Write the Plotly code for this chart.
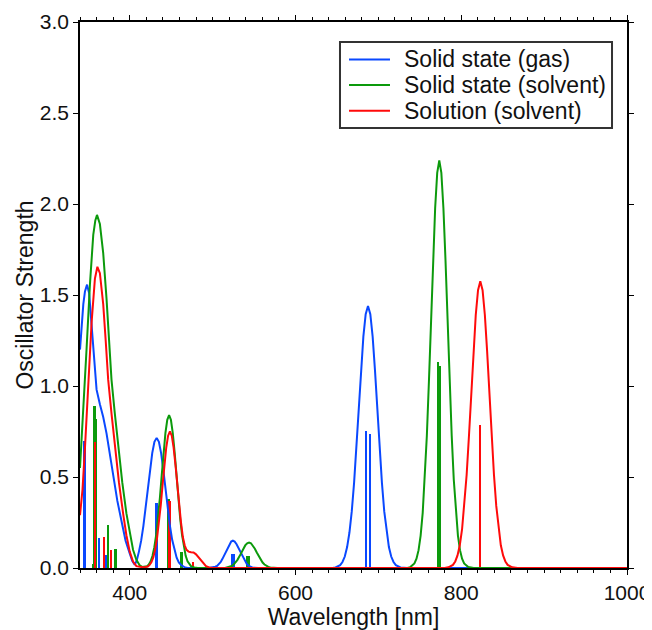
import plotly.graph_objects as go

# broadened spectra (wavelength in nm, oscillator strength)
blue_x = [340, 342, 344, 346, 348.5, 351, 354, 357, 360, 364, 368, 372, 376, 380, 385, 390, 395, 400,
          403, 406, 408.4, 411.1, 413.8, 416.5, 419.1, 421.8, 424.5, 427.15, 429.8, 432.5, 435.2, 437.85,
          440.5, 443.2, 445.9, 448.5, 451.2, 453.9, 456.6, 459.25, 462, 466, 470, 495,
          499, 501.1, 503.25, 505.4, 507.5, 509.6, 511.75, 513.9, 516, 518.1, 520.25, 522.4, 524.5,
          526.6, 528.75, 530.9, 533, 535.1, 537.25, 539.4, 541.5, 543.6, 545.75, 547.9, 550, 555, 645,
          648.3, 653.9, 656.7, 659.5, 662.3, 665.1, 667.9, 670.7, 673.5, 676.3, 679.1, 681.9, 684.7, 687.5,
          690.3, 693.1, 695.9, 698.7, 701.5, 704.3, 707.1, 709.9, 712.7, 715.5, 718.3, 721.1, 726.7, 735, 1000]
blue_y = [1.20, 1.34, 1.45, 1.52, 1.557, 1.51, 1.33, 1.12, 0.98, 0.90, 0.83, 0.74, 0.63, 0.50, 0.37, 0.26, 0.15, 0.08,
          0.04, 0.018, 0.04, 0.09, 0.15, 0.232, 0.327, 0.434, 0.540, 0.631, 0.693, 0.715, 0.693, 0.631,
          0.540, 0.434, 0.327, 0.232, 0.155, 0.097, 0.057, 0.031, 0.016, 0.005, 0, 0,
          0.002, 0.003, 0.007, 0.012, 0.020, 0.032, 0.049, 0.069, 0.091, 0.113, 0.132, 0.145, 0.150,
          0.145, 0.132, 0.113, 0.091, 0.069, 0.049, 0.032, 0.020, 0.012, 0.007, 0.003, 0.002, 0, 0,
          0.003, 0.016, 0.033, 0.063, 0.115, 0.195, 0.311, 0.468, 0.659, 0.873, 1.087, 1.271, 1.395, 1.44,
          1.395, 1.271, 1.087, 0.873, 0.659, 0.468, 0.311, 0.195, 0.115, 0.063, 0.033, 0.016, 0.003, 0, 0]

green_x = [340, 344, 348, 352, 356, 358.5, 360.5, 364, 368, 372, 375, 378, 382, 386, 391, 396, 400, 404, 408,
           412, 415, 418, 420.8, 423, 425.25, 427.5, 429.7, 431.9, 434.15, 436.4, 438.6, 440.8, 443.05,
           445.3, 447.5, 449.7, 451.95, 454.2, 456.4, 458.6, 460.85, 463.1, 465.3, 467.5, 469.75, 472,
           474.2, 478, 482, 515,
           516.1, 518.4, 520.75, 523.1, 525.4, 527.7, 530, 532.4, 534.7, 537, 539.35, 541.7, 544,
           546.3, 548.65, 551, 553.3, 555.6, 558, 560.3, 562.6, 564.9, 567.25, 569.6, 571.9, 578, 735,
           738.5, 743.5, 746, 748.5, 751, 753.5, 756, 758.5, 761, 763.5, 766, 768.5, 771, 773.5,
           776, 778.5, 781, 783.5, 786, 788.5, 791, 793.5, 796, 798.5, 801, 803.5, 808.5, 815, 1000]
green_y = [0.55, 0.86, 1.21, 1.56, 1.83, 1.91, 1.94, 1.89, 1.73, 1.48, 1.26, 1.035, 0.85, 0.668, 0.47, 0.30, 0.19, 0.10, 0.045,
           0.015, 0.006, 0.006, 0.009, 0.019, 0.037, 0.067, 0.114, 0.182, 0.273, 0.385, 0.509, 0.634, 0.741,
           0.814, 0.84, 0.814, 0.741, 0.634, 0.509, 0.385, 0.273, 0.182, 0.114, 0.067, 0.037, 0.019,
           0.009, 0.003, 0, 0,
           0.0016, 0.003, 0.006, 0.011, 0.019, 0.030, 0.045, 0.064, 0.085, 0.106, 0.124, 0.136, 0.140,
           0.136, 0.124, 0.106, 0.085, 0.064, 0.045, 0.030, 0.019, 0.011, 0.006, 0.003, 0.0016, 0, 0,
           0.005, 0.025, 0.051, 0.098, 0.178, 0.303, 0.485, 0.727, 1.025, 1.359, 1.691, 1.977, 2.171, 2.24,
           2.171, 1.977, 1.691, 1.359, 1.025, 0.727, 0.485, 0.303, 0.178, 0.098, 0.051, 0.025, 0.005, 0, 0]

red_x = [340, 343, 346, 350, 354, 358, 361, 364, 368, 371, 374, 378, 382, 387, 392, 396, 400, 404, 408,
         412, 416, 419, 421.8, 424, 426.25, 428.5, 430.7, 432.9, 435.15, 437.4, 439.6, 441.8, 444.05,
         446.3, 448.5, 450.7, 452.95, 455.2, 457.4, 459.6, 461.85, 464.1, 466.3, 468.5, 471, 474, 477,
         480, 483, 486, 489, 492, 496, 500, 780,
         784.5, 790, 792.75, 795.5, 798.25, 801, 803.75, 806.5, 809.25, 812, 814.75, 817.5, 820.25, 823,
         825.75, 828.5, 831.25, 834, 836.75, 839.5, 842.25, 845, 847.75, 850.5, 853.25, 856, 861.5, 868, 1000]
red_y = [0.29, 0.43, 0.66, 1.00, 1.35, 1.59, 1.655, 1.62, 1.45, 1.25, 1.035, 0.85, 0.668, 0.47, 0.30, 0.18, 0.09, 0.035, 0.01,
         0.005, 0.004, 0.005, 0.008, 0.017, 0.033, 0.060, 0.101, 0.162, 0.244, 0.343, 0.455, 0.566, 0.662,
         0.727, 0.75, 0.727, 0.662, 0.566, 0.455, 0.343, 0.25, 0.17, 0.125, 0.10, 0.09, 0.087, 0.085,
         0.075, 0.058, 0.04, 0.022, 0.01, 0.003, 0, 0,
         0.0035, 0.017, 0.036, 0.069, 0.125, 0.213, 0.341, 0.511, 0.721, 0.955, 1.189, 1.390, 1.526, 1.575,
         1.526, 1.390, 1.189, 0.955, 0.721, 0.511, 0.341, 0.213, 0.125, 0.069, 0.036, 0.017, 0.0035, 0, 0]

# individual transitions (sticks)
blue_stick_x = [346, 363, 372.5, 432.5, 523.5, 526, 685.3, 690]
blue_stick_y = [0.70, 0.165, 0.07, 0.356, 0.077, 0.077, 0.755, 0.735]
green_stick_x = [356, 357.5, 359, 374, 383, 446.8, 462.5, 541.5, 544.5, 772.3, 773.8]
green_stick_y = [0.02, 0.89, 0.82, 0.235, 0.105, 0.38, 0.09, 0.066, 0.066, 1.13, 1.11]
red_stick_x = [358.5, 369, 377.5, 448.3, 476.5, 822.7]
red_stick_y = [0.69, 0.17, 0.10, 0.37, 0.035, 0.787]

names = ['Solid state (gas)', 'Solid state (solvent)', 'Solution (solvent)']

BLUE = '#0a48ff'
GREEN = '#0c9a0c'
RED = '#ff0a0a'
FONT = 'Liberation Sans, Arial, sans-serif'
TXT = '#111111'

fig = go.Figure()

series = [
    (names[0], BLUE, blue_x, blue_y, blue_stick_x, blue_stick_y),
    (names[1], GREEN, green_x, green_y, green_stick_x, green_stick_y),
    (names[2], RED, red_x, red_y, red_stick_x, red_stick_y),
]

for name, col, cx, cy, sx, sy in series:
    fig.add_trace(go.Bar(x=sx, y=sy, width=2.4, marker_color=col, marker_line_width=0,
                         showlegend=False, hoverinfo='skip'))
    fig.add_trace(go.Scatter(x=cx, y=cy, mode='lines', name=name, showlegend=False,
                             line=dict(color=col, width=2)))

# legend box drawn by hand so the rows can sit as tight as in the original
fig.add_shape(type='rect', xref='paper', yref='paper', x0=0.4753, x1=0.9726, y0=0.806, y1=0.9634,
              line=dict(color='#333333', width=2), fillcolor='white', layer='above')
row_y = [0.9315, 0.8845, 0.8375]
for (name, col, *_), yy in zip(series, row_y):
    fig.add_shape(type='line', xref='paper', yref='paper', x0=0.4918, x1=0.5667, y0=yy, y1=yy,
                  line=dict(color=col, width=2), layer='above')
    fig.add_annotation(xref='paper', yref='paper', x=0.5887, y=yy, text=name, showarrow=False,
                       xanchor='left', yanchor='middle', font=dict(size=23, family=FONT, color=TXT))

fig.update_layout(
    width=644, height=622,
    margin=dict(l=72, r=25, t=14, b=62),
    plot_bgcolor='white', paper_bgcolor='white',
    barmode='overlay', bargap=0,
    font=dict(family=FONT, size=21, color=TXT),
    xaxis=dict(range=[340, 1000], tick0=0, dtick=200, showgrid=False, zeroline=False,
               showline=True, linecolor='black', linewidth=1.5, mirror='ticks',
               ticks='outside', ticklen=5, tickcolor='black', automargin=False,
               tickfont=dict(family=FONT, size=21, color=TXT),
               minor=dict(dtick=20, ticks='outside', ticklen=3, tickcolor='black'),
               title=dict(text='Wavelength [nm]', standoff=5,
                          font=dict(family=FONT, size=23, color=TXT)),
               layer='below traces'),
    yaxis=dict(range=[0, 3.0], dtick=0.5, tickformat='.1f', showgrid=False, zeroline=False,
               showline=True, linecolor='black', linewidth=1.5, mirror='ticks',
               ticks='outside', ticklen=5, tickcolor='black', automargin=False,
               tickfont=dict(family=FONT, size=21, color=TXT),
               title=dict(text='Oscillator Strength', standoff=0,
                          font=dict(family=FONT, size=23, color=TXT)),
               layer='below traces'),
)

fig.write_html("out.html")
